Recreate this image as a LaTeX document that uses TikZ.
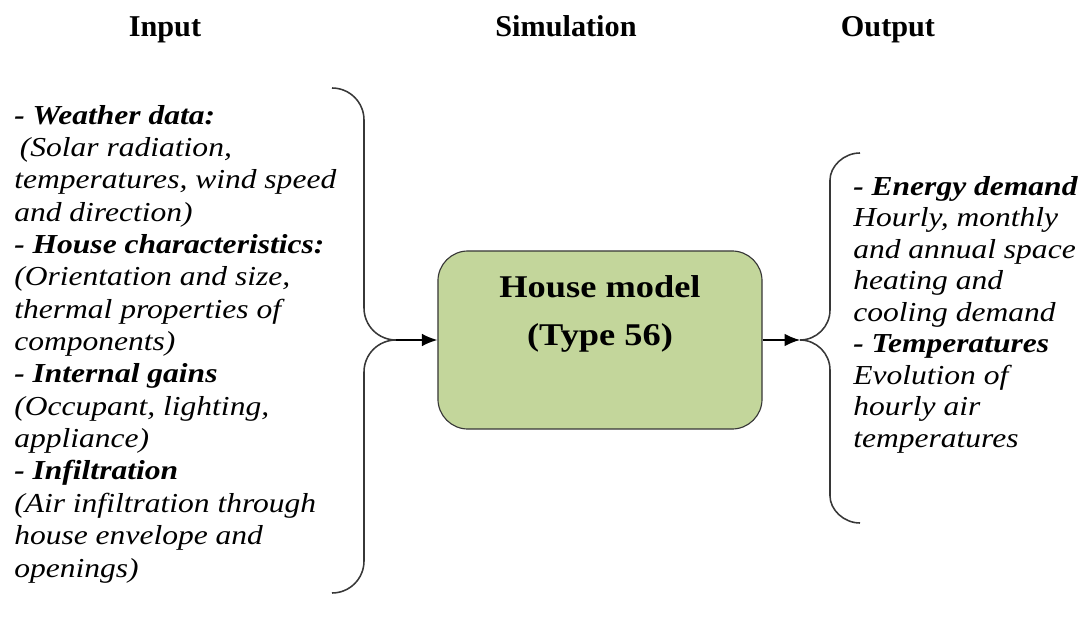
\documentclass[tikz,border=0pt]{standalone}
\usepackage{fontspec}
\setmainfont{Liberation Serif}
\newfontfamily\widefont[FakeStretch=1.15]{Liberation Serif}
\usepackage{tikz}
\usetikzlibrary{arrows.meta, positioning}
\definecolor{modelgreen}{RGB}{195,214,155}
\definecolor{linegray}{RGB}{55,55,55}

\begin{document}
\begin{tikzpicture}[x=0.025cm, y=-0.025cm]

	\tikzstyle{title}=[font=\fontsize{21.5}{24}\selectfont\bfseries, anchor=base]
	\tikzstyle{list}=[font=\widefont\fontsize{19.5}{23}\selectfont\itshape, align=left, anchor=base west, inner sep=0pt]
	\tikzstyle{model}=[draw=linegray, fill=modelgreen, thick, rounded corners=0.75cm, minimum width=8.1cm, minimum height=4.45cm]
	\tikzstyle{modeltext}=[font=\widefont\fontsize{22.5}{34}\selectfont\bfseries, align=center]
	\tikzstyle{brace}=[draw=linegray, line width=1.1pt]
	\tikzstyle{arc}=[-{Latex[length=11pt,width=9pt]}, line width=1.1pt, black]

	\useasboundingbox (0,0) rectangle (1087,623);

	% titres
	\node[title] (tin) at (165,37) {Input};
	\node[title] (tsim) at (566,37) {Simulation};
	\node[title] (tout) at (888,37) {Output};

	% entrees (ancre sur la derniere ligne)
	\node[list] (inputs) at (14,577) {\textbf{- Weather data:}\\
		\hspace{4pt}(Solar radiation,\\
		temperatures, wind speed\\
		and direction)\\
		\textbf{- House characteristics:}\\
		(Orientation and size,\\
		thermal properties of\\
		components)\\
		\textbf{- Internal gains}\\
		(Occupant, lighting,\\
		appliance)\\
		\textbf{- Infiltration}\\
		(Air infiltration through\\
		house envelope and\\
		openings)};

	% modele
	\node[model] (house) at (600,340) {};
	\node[modeltext] (housetext) at (600,314) {House model\\(Type 56)};

	% sorties
	\node[list, font=\widefont\fontsize{19.5}{22.4}\selectfont\itshape] (outputs) at (853,447) {\textbf{- Energy demand}\\
		Hourly, monthly\\
		and annual space\\
		heating and\\
		cooling demand\\
		\textbf{- Temperatures}\\
		Evolution of\\
		hourly air\\
		temperatures};

	% accolades
	\coordinate (intip) at (396,340);
	\coordinate (outtip) at (800,340);
	\draw[brace] (332,88) .. controls (349.7,88) and (364,102.3) .. (364,120)
		-- (364,308) .. controls (364,325.7) and (378.3,340) .. (intip)
		.. controls (378.3,340) and (364,354.3) .. (364,372)
		-- (364,561) .. controls (364,578.7) and (349.7,593) .. (332,593);
	\draw[brace] (860,153) .. controls (843.5,153) and (830,166.5) .. (830,180)
		-- (830,310) .. controls (830,326.5) and (816.5,340) .. (outtip)
		.. controls (816.5,340) and (830,353.5) .. (830,370)
		-- (830,496) .. controls (830,509.5) and (843.5,523) .. (860,523);

	\draw[arc] (intip) -- (house.west);
	\draw[arc] (house.east) -- (outtip);

\end{tikzpicture}
\end{document}
